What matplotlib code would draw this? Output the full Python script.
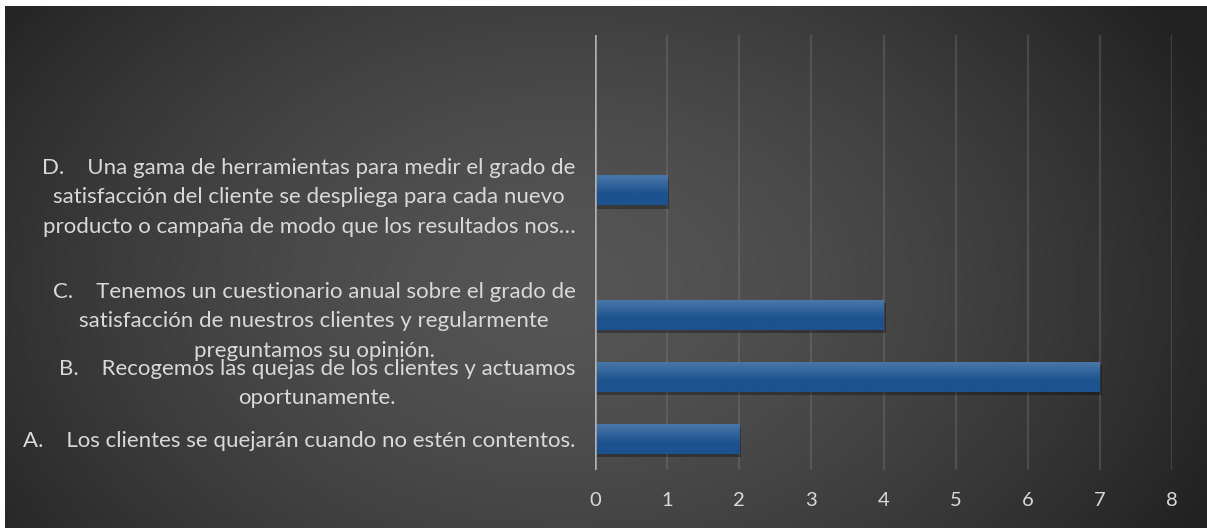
import matplotlib.pyplot as plt
import matplotlib.patheffects as pe
import numpy as np

plt.rcParams['font.family'] = ['Lato', 'DejaVu Sans']

# data (bottom to top, empty rows kept as blank categories)
labels = [
    "A.    Los clientes se quejarán cuando no estén contentos.",
    "B.    Recogemos las quejas de los clientes y actuamos\noportunamente.",
    "C.    Tenemos un cuestionario anual sobre el grado de\nsatisfacción de nuestros clientes y regularmente\npreguntamos su opinión.",
    "",
    "D.    Una gama de herramientas para medir el grado de\nsatisfacción del cliente se despliega para cada nuevo\nproducto o campaña de modo que los resultados nos…",
    "",
    "",
]
values = [2, 7, 4, None, 1, None, None]
xticks = [0, 1, 2, 3, 4, 5, 6, 7, 8]

W, H = 1207, 528
fig = plt.figure(figsize=(W / 100, H / 100), dpi=100)
fig.patch.set_facecolor('white')

# radial gradient background
bg = fig.add_axes([5 / W, 0, 1 - 5 / W, 1 - 6 / H])
bg.set_axis_off()
yy, xx = np.mgrid[0:522, 0:1202]
r = np.sqrt(((xx - 560) / 720.0) ** 2 + ((yy - 280) / 500.0) ** 2)
light, dark = 0.335, 0.13
g = light - (light - dark) * np.clip(r, 0, 1) ** 1.5
bg.imshow(np.dstack([g, g, g]), aspect='auto', extent=(0, 1, 0, 1))
bg.set_xlim(0, 1)
bg.set_ylim(0, 1)

ax = fig.add_axes([595 / W, 1 - 470 / H, (1172 - 595) / W, (470 - 35) / H])
ax.patch.set_alpha(0)
pos = np.arange(len(labels))
w = [v if v is not None else 0 for v in values]
bars = ax.barh(pos, w, height=0.48, color='#25599a', zorder=3,
               path_effects=[pe.SimplePatchShadow(offset=(1.5, -2.5), alpha=0.3, shadow_rgbFace='black'),
                             pe.Normal()])

# vertical gradient on each bar
grad = np.linspace(0, 1, 64).reshape(-1, 1)
top = np.array([0x4a, 0x77, 0xa9]) / 255
bot = np.array([0x1c, 0x52, 0x8e]) / 255
img = top + (bot - top) * np.clip(grad * 1.6, 0, 1)[..., None]
img = img.reshape(64, 1, 3)
for b, v in zip(bars, values):
    if v is None:
        continue
    x0, y0 = b.get_x(), b.get_y()
    im = ax.imshow(img, extent=(x0, x0 + b.get_width(), y0, y0 + b.get_height()),
                   aspect='auto', zorder=4, origin='upper')
    im.set_clip_path(b)

ax.set_xlim(0, 8)
ax.set_ylim(-0.5, len(labels) - 0.5)
ax.set_xticks(xticks)
ax.set_yticks(pos)
ax.set_yticklabels(labels, multialignment='center', linespacing=1.6)
ax.tick_params(axis='y', length=0, pad=14, labelsize=16, labelcolor='#d9d9d9')
ax.tick_params(axis='x', length=0, pad=16, labelsize=14.5, labelcolor='#d9d9d9')
ax.grid(axis='x', color='#8a8a8a', alpha=0.28, linewidth=1.6, zorder=0)
for s in ax.spines.values():
    s.set_visible(False)
ax.axvline(0, color='#b0b0b0', linewidth=1.8, zorder=5)

fig.savefig('out.png', dpi=100)
